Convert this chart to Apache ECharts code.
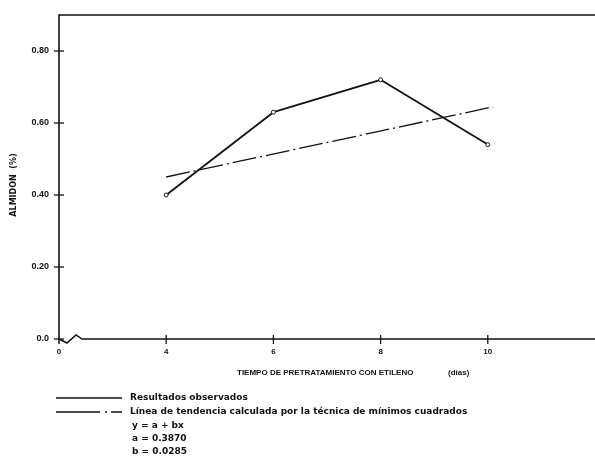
<!DOCTYPE html>
<html>
<head>
<meta charset="utf-8">
<script src="https://cdn.jsdelivr.net/npm/echarts@6/dist/echarts.min.js"></script>
<style>
html,body{margin:0;padding:0;background:#fff;}
#c{width:595px;height:469px;}
</style>
</head>
<body>
<div id="c"></div>
<script>
// ---- data ----
const xTickValues = [4, 6, 8, 10];
const xLabelValues = [2, 4, 6, 8, 10];
const xLabelTexts = ['0', '4', '6', '8', '10'];
const yTickValues = [0, 0.2, 0.4, 0.6, 0.8];
const yLabelTexts = ['0.0', '0.20', '0.40', '0.60', '0.80'];
const observedX = [4, 6, 8, 10];
const observedY = [0.40, 0.63, 0.72, 0.54];
const trendX = [4, 10.1];
const trendY = [0.45, 0.645];
const yTitle = 'ALMIDON  (%)';
const xTitle = 'TIEMPO DE PRETRATAMIENTO CON ETILENO';
const xUnit = '(días)';
const legendTexts = ['Resultados observados', 'Línea de tendencia calculada por la técnica de mínimos cuadrados'];
const equationLines = ['y = a + bx', 'a = 0.3870', 'b = 0.0285'];

const FONT = 'Liberation Sans';
const WIDE = 'DejaVu Sans';
const chart = echarts.init(document.getElementById('c'), null, {renderer: 'canvas'});

const option = {
  animation: false,
  backgroundColor: '#fff',
  grid: {left: 59, right: 0, top: 15, bottom: 130, containLabel: false},
  xAxis: {
    type: 'value', min: 2, max: 12, interval: 2,
    axisLine: {show: false},
    axisTick: {show: false},
    splitLine: {show: false},
    axisLabel: {
      customValues: xLabelValues,
      formatter: v => { const i = xLabelValues.indexOf(v); return i >= 0 ? xLabelTexts[i] : ''; },
      fontFamily: FONT, fontWeight: 'bold', fontSize: 8, color: '#111', margin: 9
    }
  },
  yAxis: {
    type: 'value', min: 0, max: 0.9,
    axisLine: {show: true, lineStyle: {color: '#111', width: 1.6}},
    axisTick: {show: false},
    splitLine: {show: false},
    axisLabel: {
      customValues: yTickValues,
      formatter: v => { const i = yTickValues.findIndex(t => Math.abs(t - v) < 1e-6); return i >= 0 ? yLabelTexts[i] : ''; },
      fontFamily: FONT, fontWeight: 'bold', fontSize: 9, color: '#111', margin: 10
    },
    name: yTitle, nameLocation: 'middle', nameGap: 41, nameRotate: 90,
    nameTextStyle: {fontFamily: WIDE, fontWeight: 'bold', fontSize: 8, color: '#111', padding: [0, 16, 0, 0]}
  },
  series: [
    {
      type: 'line', name: legendTexts[0],
      data: observedX.map((x, i) => [x, observedY[i]]),
      symbol: 'circle', symbolSize: 4, showSymbol: true,
      itemStyle: {color: '#fff', borderColor: '#111', borderWidth: 1},
      lineStyle: {color: '#111', width: 1.8},
      z: 3
    },
    {
      type: 'line', name: legendTexts[1],
      data: trendX.map((x, i) => [x, trendY[i]]),
      symbol: 'none',
      lineStyle: {color: '#111', width: 1.3, type: [24, 4, 2, 4]},
      z: 2
    }
  ]
};
chart.setOption(option);

// decorations computed through the chart's own scales
const p = (x, y) => chart.convertToPixel({gridIndex: 0}, [x, y]);
const g = [];
const stroke = {stroke: '#111', lineWidth: 1.5};
// top border
const tl = p(2, 0.9), tr = p(12, 0.9);
g.push({type: 'line', shape: {x1: tl[0], y1: tl[1], x2: tr[0], y2: tr[1]}, style: stroke});
// x axis line with break squiggle
const o = p(2, 0), e = p(12, 0);
g.push({type: 'polyline', shape: {points: [[o[0], o[1]], [o[0] + 8, o[1] + 4], [o[0] + 17, o[1] - 4], [o[0] + 23, o[1]], [e[0], e[1]]]}, style: Object.assign({fill: null}, stroke)});
// y axis extends slightly below
g.push({type: 'line', shape: {x1: o[0], y1: o[1], x2: o[0], y2: o[1] + 5}, style: stroke});
// crossing ticks
xTickValues.forEach(v => {
  const q = p(v, 0);
  g.push({type: 'line', shape: {x1: q[0], y1: q[1] - 4, x2: q[0], y2: q[1] + 5}, style: {stroke: '#111', lineWidth: 1.3}});
});
yTickValues.forEach(v => {
  const q = p(2, v);
  g.push({type: 'line', shape: {x1: q[0] - 5, y1: q[1], x2: q[0] + 5, y2: q[1]}, style: {stroke: '#111', lineWidth: 1.3}});
});
// x axis title
const txt = {fontFamily: FONT, fontWeight: 'bold', fill: '#111'};
const wtxt = {fontFamily: WIDE, fontWeight: 'bold', fill: '#111'};
g.push({type: 'text', x: 237, y: 373, style: Object.assign({text: xTitle, fontSize: 8, textVerticalAlign: 'middle'}, txt)});
g.push({type: 'text', x: 448, y: 373, style: Object.assign({text: xUnit, fontSize: 8, textVerticalAlign: 'middle'}, txt)});
// legend
g.push({type: 'line', shape: {x1: 56, y1: 398, x2: 122, y2: 398}, style: {stroke: '#111', lineWidth: 1.4}});
g.push({type: 'line', shape: {x1: 56, y1: 412, x2: 122, y2: 412}, style: {stroke: '#111', lineWidth: 1.3, lineDash: [44, 5, 2, 4]}});
g.push({type: 'text', x: 130, y: 398, style: Object.assign({text: legendTexts[0], fontSize: 9, textVerticalAlign: 'middle'}, wtxt)});
g.push({type: 'text', x: 130, y: 412, style: Object.assign({text: legendTexts[1], fontSize: 9, textVerticalAlign: 'middle'}, wtxt)});
equationLines.forEach((t, i) => {
  g.push({type: 'text', x: 132, y: 426 + i * 13, style: Object.assign({text: t, fontSize: 9, textVerticalAlign: 'middle'}, wtxt)});
});
chart.setOption({graphic: {elements: g}});
</script>
</body>
</html>
